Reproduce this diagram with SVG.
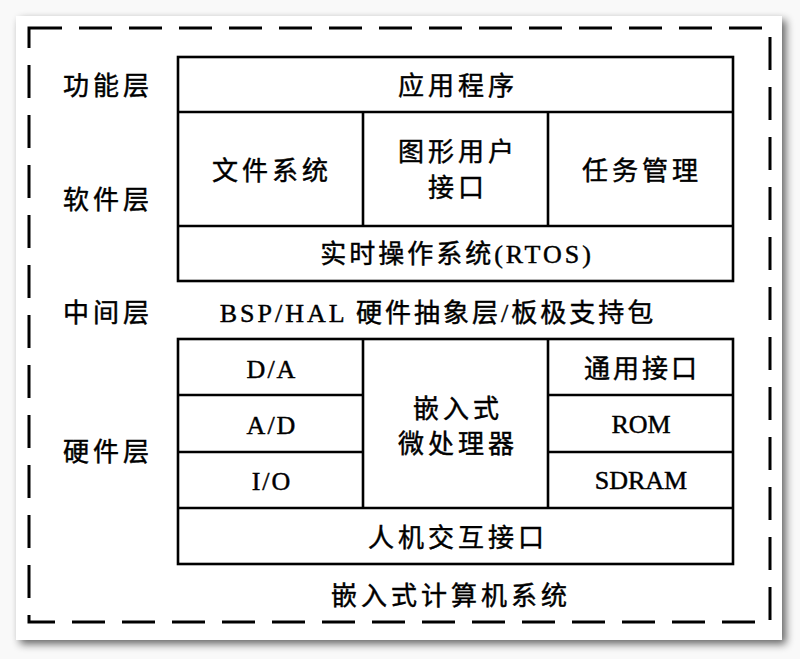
<svg xmlns="http://www.w3.org/2000/svg" width="800" height="659" viewBox="0 0 800 659">
<defs>
<filter id="sh" x="-5%" y="-5%" width="115%" height="115%">
<feGaussianBlur in="SourceAlpha" stdDeviation="4"/>
<feOffset dx="4" dy="4"/>
<feComponentTransfer><feFuncA type="linear" slope="0.6"/></feComponentTransfer>
<feMerge><feMergeNode/><feMergeNode in="SourceGraphic"/></feMerge>
</filter>
<style>
.t{font-family:"Liberation Serif","Noto Sans CJK SC",serif;font-size:26px;fill:#000;stroke:#000;stroke-width:0.45;text-anchor:middle;letter-spacing:4px}
.l{font-family:"Liberation Serif","Noto Sans CJK SC",serif;font-size:26px;fill:#000;stroke:#000;stroke-width:0.45;text-anchor:middle;letter-spacing:4px}
.b{fill:#fff;stroke:#000;stroke-width:2.6}
.ln{stroke:#000;stroke-width:2.6;fill:none}
</style>
</defs>
<rect width="800" height="659" fill="#f9f9f9"/>
<rect x="16" y="16" width="766" height="624" fill="#fff" filter="url(#sh)"/>
<rect x="29" y="28" width="741" height="594" fill="none" stroke="#000" stroke-width="3" stroke-dasharray="33 17"/>

<g id="labels">
<text class="l" x="108" y="95">功能层</text>
<text class="l" x="108" y="209">软件层</text>
<text class="l" x="108" y="322">中间层</text>
<text class="l" x="108" y="461">硬件层</text>
</g>

<g id="software">
<rect class="b" x="178" y="57" width="555" height="224"/>
<line class="ln" x1="178" y1="112" x2="733" y2="112"/>
<line class="ln" x1="178" y1="226" x2="733" y2="226"/>
<line class="ln" x1="363" y1="112" x2="363" y2="226"/>
<line class="ln" x1="548" y1="112" x2="548" y2="226"/>
</g>
<g id="app"><text class="t" x="458" y="95">应用程序</text></g>
<g id="fs"><text class="t" x="272" y="180">文件系统</text></g>
<g id="gui"><text class="t" x="458" y="161">图形用户</text><text class="t" x="458" y="197">接口</text></g>
<g id="task"><text class="t" x="642" y="180">任务管理</text></g>
<g id="rtos"><text class="t" x="457" y="263" style="letter-spacing:3px">实时操作系统(RTOS)</text></g>

<g id="bsp"><text class="t" x="438" y="322" style="letter-spacing:3px">BSP/HAL 硬件抽象层/板极支持包</text></g>

<g id="hardware">
<rect class="b" x="178" y="339" width="555" height="225"/>
<line class="ln" x1="178" y1="508" x2="733" y2="508"/>
<line class="ln" x1="363" y1="339" x2="363" y2="508"/>
<line class="ln" x1="548" y1="339" x2="548" y2="508"/>
<line class="ln" x1="178" y1="395" x2="363" y2="395"/>
<line class="ln" x1="178" y1="452" x2="363" y2="452"/>
<line class="ln" x1="548" y1="395" x2="733" y2="395"/>
<line class="ln" x1="548" y1="452" x2="733" y2="452"/>
</g>
<g id="da"><text class="t" x="272" y="378" style="letter-spacing:2px">D/A</text></g>
<g id="ad"><text class="t" x="272" y="434" style="letter-spacing:2px">A/D</text></g>
<g id="io"><text class="t" x="272" y="490" style="letter-spacing:2px">I/O</text></g>
<g id="cpu"><text class="t" x="458" y="418">嵌入式</text><text class="t" x="458" y="453">微处理器</text></g>
<g id="gpio"><text class="t" x="642" y="378" style="letter-spacing:3px">通用接口</text></g>
<g id="rom"><text class="t" x="641" y="433" style="letter-spacing:0">ROM</text></g>
<g id="sdram"><text class="t" x="641" y="489" style="letter-spacing:0">SDRAM</text></g>
<g id="hmi"><text class="t" x="458" y="547">人机交互接口</text></g>
<g id="system"><text class="t" x="451" y="605">嵌入式计算机系统</text></g>
<g id="connectors"/>
</svg>
